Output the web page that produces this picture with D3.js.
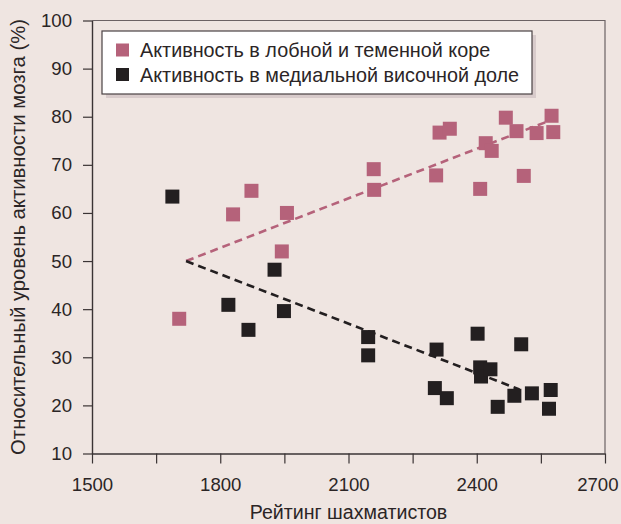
<!DOCTYPE html>
<html>
<head>
<meta charset="utf-8">
<script src="https://cdn.jsdelivr.net/npm/d3@7"></script>
<style>
  body { margin: 0; background: #efe5e1; }
  svg { display: block; font-family: 'Liberation Sans', Arial, sans-serif; }
</style>
</head>
<body>
<div id="chart"></div>
<script>
// frontal / parietal cortex activity
var pinkX = [1704, 1830, 1873, 1944, 1956, 2159, 2160, 2305, 2313, 2337, 2408, 2421, 2435, 2468, 2493, 2510, 2540, 2575, 2579]
var pinkY = [38, 59.7, 64.6, 52, 60, 69.1, 64.8, 67.8, 76.7, 77.5, 65, 74.5, 72.9, 79.8, 77, 67.7, 76.6, 80.2, 76.8]

// medial temporal lobe activity
var blackX = [1688, 1819, 1866, 1927, 1949, 2146, 2146, 2302, 2306, 2330, 2402, 2408, 2410, 2432, 2449, 2488, 2504, 2529, 2569, 2573]
var blackY = [63.4, 40.9, 35.7, 48.2, 39.6, 34.2, 30.4, 23.6, 31.6, 21.5, 34.9, 27.9, 26, 27.5, 19.7, 22, 32.7, 22.5, 19.3, 23.2]

// trend lines [start, end]
var pinkTrendX = [1720, 2565]
var pinkTrendY = [50, 79]
var blackTrendX = [1720, 2500]
var blackTrendY = [50, 23.3]

var xTicks = [1500, 1650, 1800, 1950, 2100, 2250, 2400, 2550, 2700]
var xTickLabels = [1500, 1800, 2100, 2400, 2700]
var yTicks = [10, 20, 30, 40, 50, 60, 70, 80, 90, 100]

var legendLabels = ['Активность в лобной и теменной коре', 'Активность в медиальной височной доле']

var width = 621
var height = 524
var margin = { top: 20, left: 92, bottom: 71, right: 16 }

var pink = '#b5627a'
var black = '#231f20'
var textColor = '#2b2526'

var svg = d3.select('#chart').append('svg')
  .attr('width', width)
  .attr('height', height)

svg.append('rect')
  .attr('width', width)
  .attr('height', height)
  .attr('fill', '#efe5e1')

var x = d3.scaleLinear()
  .domain([1500, 2700])
  .range([margin.left, width - margin.right])

var y = d3.scaleLinear()
  .domain([10, 100])
  .range([height - margin.bottom + 0.5, margin.top + 0.5])

// frame top + right
svg.append('path')
  .attr('d', 'M' + x(1500) + ',' + y(100) + 'H' + x(2700) + 'V' + y(10))
  .attr('fill', 'none')
  .attr('stroke', '#6b6264')
  .attr('stroke-width', 1.2)

var xAxis = svg.append('g')
  .attr('transform', 'translate(0,' + y(10) + ')')
  .call(d3.axisBottom(x).tickValues(xTicks).tickSize(10).tickSizeOuter(0)
    .tickFormat(function (d) { return xTickLabels.indexOf(d) >= 0 ? d : '' }))

var yAxis = svg.append('g')
  .attr('transform', 'translate(' + x(1500) + ',0)')
  .call(d3.axisLeft(y).tickValues(yTicks).tickSize(9).tickSizeOuter(0))

;[xAxis, yAxis].forEach(function (g) {
  g.select('.domain').attr('stroke', '#3a3334').attr('stroke-width', 1.4)
  g.selectAll('.tick line').attr('stroke', '#3a3334').attr('stroke-width', 1.2)
  g.selectAll('.tick text')
    .attr('fill', textColor)
    .style('font-size', '18.6px')
    .style('font-family', "'Liberation Sans', Arial, sans-serif")
})
xAxis.selectAll('.tick text').attr('y', 37).attr('dy', null)
// last label pulled in so it stays on the page
xAxis.selectAll('.tick text').filter(function (d) { return d === 2700 })
  .attr('text-anchor', 'end').attr('x', 13)
yAxis.selectAll('.tick text').attr('x', -20)

// axis titles
svg.append('text')
  .attr('x', (x(1500) + x(2700)) / 2)
  .attr('y', 519)
  .attr('text-anchor', 'middle')
  .attr('fill', textColor)
  .style('font-size', '19.6px')
  .text('Рейтинг шахматистов')

svg.append('text')
  .attr('transform', 'translate(24.5,' + ((y(10) + y(100)) / 2) + ') rotate(-90)')
  .attr('text-anchor', 'middle')
  .attr('fill', textColor)
  .style('font-size', '20.3px')
  .text('Относительный уровень активности мозга (%)')

// trend lines
function trend (xs, ys, color) {
  svg.append('line')
    .attr('x1', x(xs[0]))
    .attr('y1', y(ys[0]))
    .attr('x2', x(xs[1]))
    .attr('y2', y(ys[1]))
    .attr('stroke', color)
    .attr('stroke-width', 2.6)
    .attr('stroke-dasharray', '8,5')
}
trend(pinkTrendX, pinkTrendY, pink)
trend(blackTrendX, blackTrendY, black)

// points
var size = 14
function points (xs, ys, color) {
  svg.append('g').selectAll('rect')
    .data(d3.range(xs.length))
    .enter().append('rect')
    .attr('x', function (i) { return x(xs[i]) - size / 2 })
    .attr('y', function (i) { return y(ys[i]) - size / 2 })
    .attr('width', size)
    .attr('height', size)
    .attr('fill', color)
}
points(blackX, blackY, black)
points(pinkX, pinkY, pink)

// legend
var lg = { x: 102, y: 31, w: 430, h: 63 }
svg.append('rect')
  .attr('x', lg.x + 4)
  .attr('y', lg.y + 4)
  .attr('width', lg.w)
  .attr('height', lg.h)
  .attr('fill', '#d8cbcb')
svg.append('rect')
  .attr('x', lg.x)
  .attr('y', lg.y)
  .attr('width', lg.w)
  .attr('height', lg.h)
  .attr('fill', '#ffffff')
  .attr('stroke', '#4a4244')
  .attr('stroke-width', 1.2)

var legendColors = [pink, black]
legendLabels.forEach(function (label, i) {
  var cy = lg.y + 19 + i * 24.5
  svg.append('rect')
    .attr('x', lg.x + 14)
    .attr('y', cy - 6.5)
    .attr('width', 13)
    .attr('height', 13)
    .attr('fill', legendColors[i])
  svg.append('text')
    .attr('x', lg.x + 38)
    .attr('y', cy + 7)
    .attr('fill', textColor)
    .style('font-size', '19.8px')
    .text(label)
})
</script>
</body>
</html>
